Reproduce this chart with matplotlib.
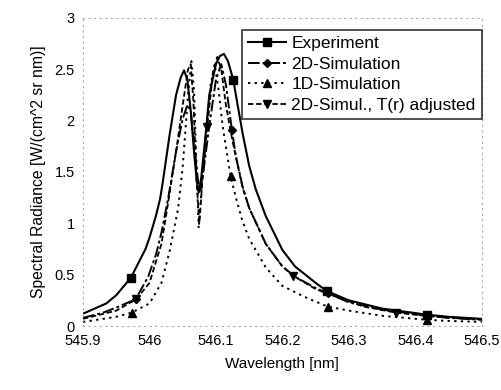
import matplotlib
matplotlib.use("Agg")
import matplotlib.pyplot as plt

plt.rcParams['font.family'] = ['Liberation Sans', 'DejaVu Sans']

# Experiment
exp_w = [545.9, 545.935, 545.95, 545.972, 545.994, 546.0, 546.01, 546.016, 546.02, 546.03, 546.04,
         546.047, 546.052, 546.057, 546.062, 546.067, 546.071, 546.074, 546.078, 546.085, 546.09,
         546.1, 546.106, 546.112, 546.118, 546.126, 546.13, 546.14, 546.15, 546.16, 546.175,
         546.2, 546.219, 546.25, 546.267, 546.3, 546.35, 546.418, 546.45, 546.5]
exp_v = [0.12, 0.22, 0.30, 0.47, 0.75, 0.86, 1.08, 1.24, 1.40, 1.85, 2.25,
         2.42, 2.49, 2.40, 2.10, 1.70, 1.42, 1.30, 1.45, 1.90, 2.25,
         2.55, 2.63, 2.65, 2.58, 2.40, 2.25, 1.88, 1.56, 1.33, 1.07,
         0.74, 0.58, 0.42, 0.34, 0.25, 0.17, 0.11, 0.09, 0.07]
exp_mk = [545.972, 546.126, 546.267, 546.418]

# 2D-Simulation
sim2_w = [545.9, 545.93, 545.95, 545.979, 545.998, 546.01, 546.018, 546.028, 546.04, 546.05,
          546.057, 546.062, 546.068, 546.075, 546.08, 546.09, 546.1, 546.108, 546.115, 546.124,
          546.13, 546.14, 546.15, 546.175, 546.2, 546.219, 546.25, 546.268, 546.3, 546.35,
          546.418, 546.45, 546.5]
sim2_v = [0.08, 0.13, 0.18, 0.26, 0.48, 0.70, 0.91, 1.24, 1.70, 2.02,
          2.15, 2.10, 1.72, 1.30, 1.45, 1.95, 2.40, 2.55, 2.35, 1.91,
          1.65, 1.36, 1.15, 0.80, 0.58, 0.48, 0.37, 0.32, 0.23, 0.16,
          0.10, 0.08, 0.06]
sim2_mk = [545.979, 546.124, 546.268, 546.418]

# 1D-Simulation
sim1_w = [545.9, 545.93, 545.95, 545.973, 546.0, 546.018, 546.03, 546.043, 546.05, 546.058,
          546.063, 546.067, 546.071, 546.074, 546.078, 546.085, 546.092, 546.098, 546.104, 546.11,
          546.122, 546.13, 546.14, 546.15, 546.175, 546.2, 546.238, 546.268, 546.3, 546.35,
          546.418, 546.45, 546.5]
sim1_v = [0.04, 0.07, 0.09, 0.13, 0.22, 0.42, 0.72, 1.14, 1.55, 2.25,
          2.58, 2.30, 1.50, 0.95, 1.30, 1.90, 2.35, 2.55, 2.30, 1.95,
          1.46, 1.25, 1.02, 0.85, 0.57, 0.39, 0.27, 0.19, 0.15, 0.10,
          0.06, 0.05, 0.04]
sim1_mk = [545.973, 546.122, 546.268, 546.418]

# 2D-Simul., T(r) adjusted
simT_w = [545.9, 545.95, 545.98, 546.0, 546.018, 546.028, 546.04, 546.05, 546.058, 546.062,
          546.066, 546.071, 546.075, 546.08, 546.087, 546.095, 546.102, 546.108, 546.115, 546.125,
          546.14, 546.15, 546.175, 546.2, 546.216, 546.25, 546.27, 546.3, 546.322, 546.371,
          546.4, 546.45, 546.5]
simT_v = [0.07, 0.15, 0.26, 0.42, 0.80, 1.20, 1.70, 2.15, 2.50, 2.55,
          2.20, 1.40, 1.00, 1.45, 1.94, 2.45, 2.62, 2.50, 2.15, 1.80,
          1.35, 1.15, 0.80, 0.58, 0.49, 0.36, 0.31, 0.24, 0.19, 0.13,
          0.11, 0.08, 0.065]
simT_mk = [545.98, 546.087, 546.216, 546.371]

labels = ["Experiment", "2D-Simulation", "1D-Simulation", "2D-Simul., T(r) adjusted"]
x_ticks = [545.9, 546, 546.1, 546.2, 546.3, 546.4, 546.5]
x_tick_labels = ["545.9", "546", "546.1", "546.2", "546.3", "546.4", "546.5"]
y_ticks = [0, 0.5, 1, 1.5, 2, 2.5, 3]
y_tick_labels = ["0", "0.5", "1", "1.5", "2", "2.5", "3"]

fig = plt.figure(figsize=(5.01, 3.9), dpi=100)
ax = fig.add_axes([0.1657, 0.164, 0.796, 0.79])

def idx(ws, mk):
    return [ws.index(m) for m in mk]

ax.plot(exp_w, exp_v, color='black', lw=1.5, ls='-', marker='s', ms=5.5,
        markevery=idx(exp_w, exp_mk), label=labels[0])
ax.plot(sim2_w, sim2_v, color='black', lw=1.4, ls=(0, (6, 1.5, 1.5, 1.5)), marker='D', ms=4.5,
        markevery=idx(sim2_w, sim2_mk), label=labels[1])
ax.plot(sim1_w, sim1_v, color='black', lw=1.4, ls=(0, (1.2, 2.2)), marker='^', ms=5.5,
        markevery=idx(sim1_w, sim1_mk), label=labels[2])
ax.plot(simT_w, simT_v, color='black', lw=1.3, ls=(0, (3, 1.5)), marker='v', ms=5.5,
        markevery=idx(simT_w, simT_mk), label=labels[3])

ax.set_xlim(545.9, 546.5)
ax.set_ylim(0, 3)
ax.set_xticks(x_ticks)
ax.set_xticklabels(x_tick_labels)
ax.set_yticks(y_ticks)
ax.set_yticklabels(y_tick_labels)
ax.tick_params(length=0, labelsize=10.5, pad=6)
for s in ax.spines.values():
    s.set_color('#aaaaaa')
    s.set_linestyle((0, (1, 4)))
    s.set_linewidth(0.8)

ax.set_xlabel("Wavelength [nm]", fontsize=11, labelpad=6)
ax.set_ylabel("Spectral Radiance [W/(cm^2 sr nm)]", fontsize=11.3, labelpad=6)

leg = ax.legend(loc='upper right', bbox_to_anchor=(1.0, 0.96), fontsize=12.5, frameon=True,
                fancybox=False, edgecolor='black', handlelength=2.2, handletextpad=0.3,
                borderpad=0.35, labelspacing=0.3, borderaxespad=0)
leg.get_frame().set_linewidth(1.2)

fig.savefig("out.png", dpi=100)
